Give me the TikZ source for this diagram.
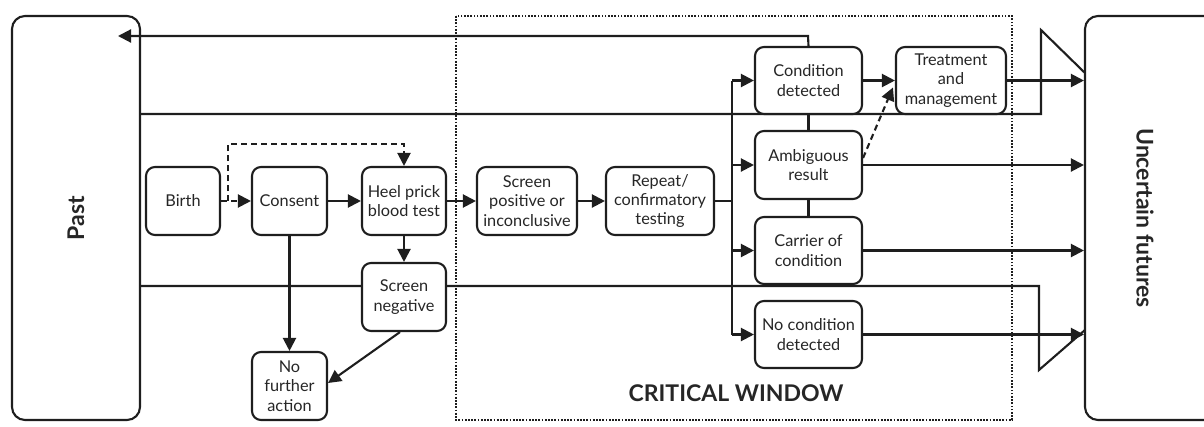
\documentclass[tikz,border=0pt]{standalone}
\usepackage{fontspec}
\setmainfont{Lato}
\usetikzlibrary{arrows.meta,calc}
\definecolor{ink}{HTML}{1E1E1E}
\definecolor{txt}{HTML}{262626}
\tikzset{
  box/.style={draw=ink, fill=white, rounded corners=9pt, line width=2.1pt, align=center,
    text=txt, font=\fontsize{16.3}{19.4}\selectfont, inner sep=0pt},
  bigbox/.style={draw=ink, fill=white, rounded corners=13pt, line width=2.1pt},
  ln/.style={draw=ink, line width=2.1pt},
  arr/.style={ln, -{Triangle[length=13pt,width=13pt]}},
  dsh/.style={dash pattern=on 6pt off 4pt},
  bigtxt/.style={text=txt, font=\fontsize{23}{27}\selectfont\bfseries},
}
\begin{document}
\begin{tikzpicture}[x=1pt,y=-1pt]
\useasboundingbox (0,0) rectangle (1204,426);
% big boxes
\node[bigbox, minimum width=128pt, minimum height=404pt] (past) at (76,218) {};
\node[bigtxt, rotate=90] (pastlbl) at (past.center) {Past};
\begin{scope}
\clip (0,0) rectangle (1204,426);
\node[bigbox, minimum width=150pt, minimum height=404pt] (fut) at (1160,218) {};
\end{scope}
\node[bigtxt, rotate=-90] (futlbl) at (1145,218) {Uncertain futures};
% critical window
\draw[ink, line width=1.7pt, dash pattern=on 1.7pt off 1.5pt] (456,16) rectangle (1012,420);
\node[text=txt, font=\fontsize{23}{27}\selectfont\bfseries] (cw) at (736,393) {CRITICAL WINDOW};
% coordinates for long lines
\coordinate (t1) at (1041,114);
\coordinate (t2) at (1041,30);
\coordinate (t3) at (1085,73);
\coordinate (b1) at (1039,286);
\coordinate (b2) at (1039,370);
\coordinate (b3) at (1085,330);
\coordinate (pastin) at (118,36);
\coordinate (topturn) at (808,36);
% background lines
\draw[ln] (140,114) -- (t1) -- (t2) -- (t3);
\draw[ln] (140,286) -- (b1) -- (b2) -- (b3);
% nodes
\node[box, minimum width=74pt, minimum height=68pt] (birth) at (183,201) {Birth};
\node[box, minimum width=75pt, minimum height=68pt] (consent) at (289.5,201) {Consent};
\node[box, minimum width=84pt, minimum height=68pt] (heel) at (404,201) {Heel prick\\blood test};
\node[box, minimum width=84pt, minimum height=68pt] (neg) at (404,297) {Screen\\negative};
\node[box, minimum width=75pt, minimum height=68pt] (nfa) at (289.5,386) {No\\further\\action};
\node[box, minimum width=100pt, minimum height=68pt] (pos) at (527,201) {Screen\\positive or\\inconclusive};
\node[box, minimum width=108pt, minimum height=68pt] (rep) at (660,201) {Repeat/\\confirmatory\\testing};
\node[box, minimum width=107pt, minimum height=67pt] (cd) at (808.5,80.5) {Condition\\detected};
\node[box, minimum width=107pt, minimum height=68pt] (amb) at (808.5,165) {Ambiguous\\result};
\node[box, minimum width=107pt, minimum height=67pt] (car) at (808.5,250.5) {Carrier of\\condition};
\node[box, minimum width=107pt, minimum height=67pt] (noc) at (808.5,334.5) {No condition\\detected};
\node[box, minimum width=110pt, minimum height=67pt] (tre) at (951,80.5) {Treatment\\and\\management};
% return arrow to past
\draw[arr] (cd.north) -- (topturn) -- (pastin);
% dashed from birth
\coordinate (dj) at (228,201);
\coordinate (dtop1) at (228,144);
\coordinate (dtop2) at (404,144);
\draw[arr, dsh] (birth.east) -- (consent.west);
\draw[arr, dsh] (dj) -- (dtop1) -- (dtop2) -- (heel.north);
% solid flow
\draw[arr] (consent.east) -- (heel.west);
\draw[arr] (consent.south) -- (nfa.north);
\draw[arr] (heel.south) -- (neg.north);
\draw[arr] ([xshift=-4pt]neg.south) -- ([yshift=3pt]nfa.east);
\draw[arr] (heel.east) -- (pos.west);
\draw[arr] (pos.east) -- (rep.west);
% branch
\coordinate (br) at (732,201);
\coordinate (brt) at (732,80.5);
\coordinate (brb) at (732,334.5);
\draw[ln] (rep.east) -- (br);
\draw[ln] (brt) -- (brb);
\draw[arr] (brt) -- (cd.west);
\draw[arr] (br |- amb.west) -- (amb.west);
\draw[arr] (br |- car.west) -- (car.west);
\draw[arr] (brb) -- (noc.west);
\draw[ln] (cd.south) -- (amb.north);
\draw[ln] (amb.south) -- (car.north);
% to treatment and futures
\draw[arr] (cd.east) -- (tre.west);
\draw[arr, dsh] ([yshift=7pt]amb.east) -- ([xshift=-2pt,yshift=-7pt]tre.west);
\draw[arr] (tre.east) -- (fut.west |- tre.east);
\draw[arr] (amb.east) -- (fut.west |- amb.east);
\draw[arr] (car.east) -- (fut.west |- car.east);
\draw[arr] (noc.east) -- (fut.west |- noc.east);
\end{tikzpicture}
\end{document}
